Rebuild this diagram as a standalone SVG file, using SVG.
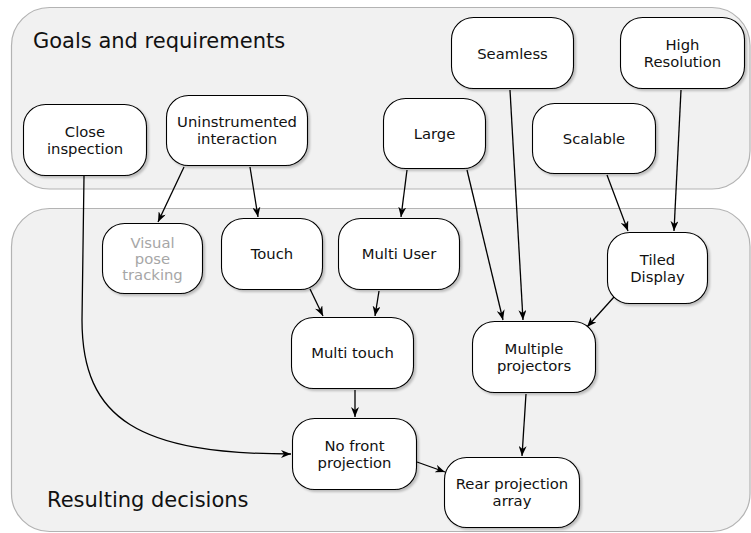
<svg xmlns="http://www.w3.org/2000/svg" width="751" height="533" viewBox="0 0 751 533">
<style>
.cont{fill:#f1f1f1;stroke:#b3b3b3;stroke-width:1.2}
.node rect{fill:#fff;stroke:#000;stroke-width:1.1;filter:url(#sh)}
.node text{font-family:"DejaVu Sans",Verdana,sans-serif;font-size:14.8px;fill:#111;text-anchor:middle}
.node.gray text{fill:#a6a6a6}
.title{font-family:"DejaVu Sans",Verdana,sans-serif;font-size:21px;fill:#111}
.edges path{fill:none;stroke:#000;stroke-width:1.3;marker-end:url(#arr)}
</style>
<defs>
<filter id="sh" x="-10%" y="-10%" width="130%" height="130%">
<feDropShadow dx="2" dy="2" stdDeviation="1" flood-color="#000" flood-opacity="0.22"/>
</filter>
<marker id="arr" viewBox="0 0 10 8" refX="10" refY="4" markerWidth="10" markerHeight="8" markerUnits="userSpaceOnUse" orient="auto">
<path d="M0,0 L10,4 L0,8 L3,4 z" fill="#000"/>
</marker>
</defs>

<g id="goals">
<rect class="cont" x="11.5" y="7.5" width="738.5" height="181.5" rx="38" ry="38"/>
<text class="title" x="33" y="48">Goals and requirements</text>
</g>
<g id="decisions">
<rect class="cont" x="11.5" y="208.5" width="738.5" height="323" rx="38" ry="38"/>
<text class="title" x="47" y="507">Resulting decisions</text>
</g>

<g class="edges" id="connectors">
<path d="M84,176 L82,320 C82,420 140,454 291,454"/>
<path d="M184,167 L158,222"/>
<path d="M250,167 L258,217"/>
<path d="M407,170 L401,217"/>
<path d="M467,170 L503,320"/>
<path d="M510,90 L523,320"/>
<path d="M607,175 L628,231"/>
<path d="M681,90 L674,231"/>
<path d="M310,289 L323,316"/>
<path d="M379,291 L375,316"/>
<path d="M614,297 L587,327"/>
<path d="M355,390 L355,417"/>
<path d="M526,394 L522,456"/>
<path d="M417,462 L445,472"/>
</g>

<g class="node" id="close-inspection">
<rect x="23.5" y="104.5" width="123" height="71" rx="22"/>
<text x="85" y="136.5">Close</text><text x="85" y="153.5">inspection</text>
</g>
<g class="node" id="uninstrumented">
<rect x="166.5" y="95.5" width="141" height="70" rx="22"/>
<text x="237" y="127">Uninstrumented</text><text x="237" y="144">interaction</text>
</g>
<g class="node gray" id="visual-pose">
<rect x="102.5" y="223.5" width="100" height="70" rx="22"/>
<text x="152.5" y="248">Visual</text><text x="152.5" y="264">pose</text><text x="152.5" y="280">tracking</text>
</g>
<g class="node" id="touch">
<rect x="221.5" y="218.5" width="101" height="71" rx="22"/>
<text x="272" y="259">Touch</text>
</g>
<g class="node" id="multi-user">
<rect x="338.5" y="218.5" width="121" height="71" rx="22"/>
<text x="399" y="259">Multi User</text>
</g>
<g class="node" id="multi-touch">
<rect x="291.5" y="317.5" width="122" height="71" rx="22"/>
<text x="352.5" y="358">Multi touch</text>
</g>
<g class="node" id="no-front">
<rect x="292.5" y="418.5" width="124" height="71" rx="22"/>
<text x="354.5" y="450.5">No front</text><text x="354.5" y="467.5">projection</text>
</g>
<g class="node" id="rear-array">
<rect x="444.5" y="457.5" width="135" height="70" rx="22"/>
<text x="512" y="489">Rear projection</text><text x="512" y="506">array</text>
</g>
<g class="node" id="multiple-projectors">
<rect x="472.5" y="321.5" width="123" height="71" rx="22"/>
<text x="534" y="353.5">Multiple</text><text x="534" y="370.5">projectors</text>
</g>
<g class="node" id="tiled-display">
<rect x="607.5" y="232.5" width="100" height="71" rx="22"/>
<text x="657.5" y="264.5">Tiled</text><text x="657.5" y="281.5">Display</text>
</g>
<g class="node" id="seamless">
<rect x="451.5" y="17.5" width="122" height="71" rx="22"/>
<text x="512.5" y="58.5">Seamless</text>
</g>
<g class="node" id="high-resolution">
<rect x="620.5" y="17.5" width="124" height="71" rx="22"/>
<text x="682.5" y="49.5">High</text><text x="682.5" y="66.5">Resolution</text>
</g>
<g class="node" id="large">
<rect x="383.5" y="98.5" width="102" height="70" rx="22"/>
<text x="434.5" y="139">Large</text>
</g>
<g class="node" id="scalable">
<rect x="532.5" y="103.5" width="123" height="70" rx="22"/>
<text x="594" y="144">Scalable</text>
</g>
</svg>
